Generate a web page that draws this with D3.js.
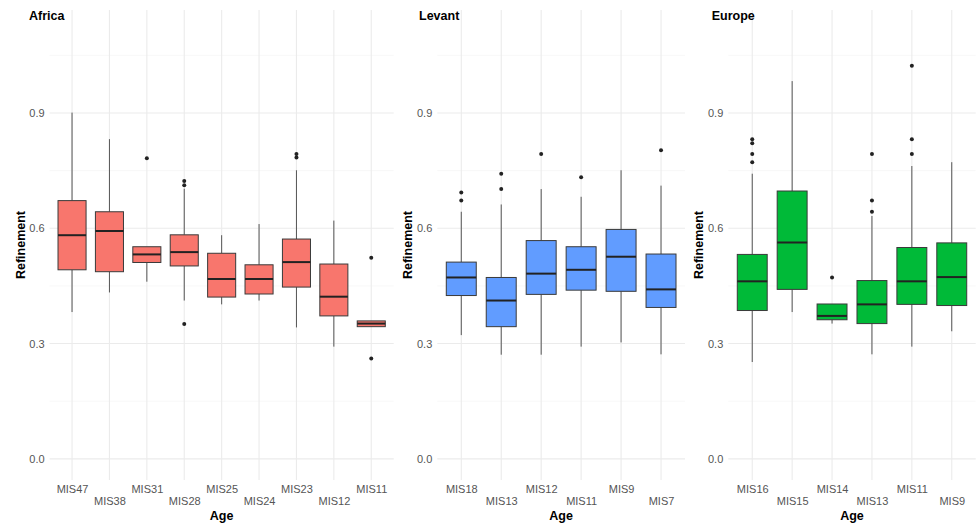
<!DOCTYPE html>
<html>
<head>
<meta charset="utf-8">
<script src="https://cdn.jsdelivr.net/npm/d3@7/dist/d3.min.js"></script>
<style>
  html, body { margin: 0; padding: 0; background: #ffffff; }
  svg { display: block; font-family: "Liberation Sans", Arial, sans-serif; }
</style>
</head>
<body>
<svg id="chart" width="979" height="523"></svg>
<script>
// Refinement by marine isotope stage, one panel per region.
// Box statistics per stage: [lower whisker, Q1, median, Q3, upper whisker]

const africaStages = ["MIS47", "MIS38", "MIS31", "MIS28", "MIS25", "MIS24", "MIS23", "MIS12", "MIS11"];
const africaBoxes = [
  [0.382, 0.492, 0.582, 0.672, 0.901],
  [0.433, 0.487, 0.593, 0.643, 0.832],
  [0.461, 0.511, 0.532, 0.552, 0.552],
  [0.412, 0.502, 0.538, 0.583, 0.703],
  [0.402, 0.421, 0.468, 0.535, 0.582],
  [0.412, 0.429, 0.468, 0.505, 0.611],
  [0.342, 0.447, 0.512, 0.572, 0.751],
  [0.292, 0.372, 0.422, 0.507, 0.620],
  [0.344, 0.344, 0.352, 0.359, 0.359]
];
const africaOutliers = [
  [],
  [],
  [0.782],
  [0.723, 0.712, 0.351],
  [],
  [],
  [0.793, 0.784],
  [],
  [0.523, 0.261]
];

const levantStages = ["MIS18", "MIS13", "MIS12", "MIS11", "MIS9", "MIS7"];
const levantBoxes = [
  [0.322, 0.425, 0.472, 0.512, 0.643],
  [0.271, 0.344, 0.412, 0.472, 0.662],
  [0.271, 0.428, 0.482, 0.568, 0.702],
  [0.292, 0.439, 0.492, 0.552, 0.682],
  [0.303, 0.436, 0.526, 0.597, 0.751],
  [0.272, 0.394, 0.441, 0.533, 0.711]
];
const levantOutliers = [
  [0.693, 0.672],
  [0.742, 0.702],
  [0.793],
  [0.733],
  [],
  [0.803]
];

const europeStages = ["MIS16", "MIS15", "MIS14", "MIS13", "MIS11", "MIS9"];
const europeBoxes = [
  [0.252, 0.386, 0.462, 0.532, 0.742],
  [0.382, 0.441, 0.563, 0.697, 0.983],
  [0.352, 0.362, 0.372, 0.403, 0.403],
  [0.272, 0.352, 0.402, 0.464, 0.632],
  [0.292, 0.402, 0.462, 0.550, 0.762],
  [0.332, 0.399, 0.473, 0.562, 0.772]
];
const europeOutliers = [
  [0.832, 0.821, 0.793, 0.772],
  [],
  [0.472],
  [0.793, 0.672, 0.643],
  [1.023, 0.832, 0.793],
  []
];

const yMajorTicks = [0.0, 0.3, 0.6, 0.9];
const yMinorTicks = [0.15, 0.45, 0.75, 1.05];

const panels = [
  { title: "Africa", stages: africaStages, boxes: africaBoxes, outliers: africaOutliers,
    fill: "#F8766D", left: 49.6, right: 393.7, titleX: 29 },
  { title: "Levant", stages: levantStages, boxes: levantBoxes, outliers: levantOutliers,
    fill: "#619CFF", left: 437.3, right: 685, titleX: 419 },
  { title: "Europe", stages: europeStages, boxes: europeBoxes, outliers: europeOutliers,
    fill: "#00BA38", left: 728.3, right: 975.7, titleX: 711.7 }
];

const svg = d3.select("#chart");
const panelTop = 10, panelBottom = 480;

const y = d3.scaleLinear().domain([-0.055, 1.168]).range([panelBottom, panelTop]);

panels.forEach(p => {
  const g = svg.append("g");
  const x = d3.scalePoint().domain(p.stages).range([p.left, p.right]).padding(0.6);
  const boxW = x.step() * 0.75;

  // grid
  g.selectAll("line.minor").data(yMinorTicks).join("line")
    .attr("x1", p.left).attr("x2", p.right)
    .attr("y1", d => y(d)).attr("y2", d => y(d))
    .attr("stroke", "#f3f3f3").attr("stroke-width", 0.6);
  g.selectAll("line.major").data(yMajorTicks).join("line")
    .attr("x1", p.left).attr("x2", p.right)
    .attr("y1", d => y(d)).attr("y2", d => y(d))
    .attr("stroke", "#ebebeb").attr("stroke-width", 1.1);
  g.selectAll("line.vgrid").data(p.stages).join("line")
    .attr("x1", d => x(d)).attr("x2", d => x(d))
    .attr("y1", panelTop).attr("y2", panelBottom)
    .attr("stroke", "#ebebeb").attr("stroke-width", 1.1);

  // y axis labels
  const yAxis = d3.axisLeft(y).tickValues(yMajorTicks).tickFormat(d3.format(".1f")).tickSize(0).tickPadding(5);
  const ya = g.append("g").attr("transform", `translate(${p.left},0)`).call(yAxis);
  ya.select(".domain").remove();
  ya.selectAll("text").attr("fill", "#555").style("font-size", "11px")
    .style("font-family", "'Liberation Sans', Arial, sans-serif");

  // x axis labels, staggered in two rows
  const xAxis = d3.axisBottom(x).tickSize(0).tickPadding(0);
  const xa = g.append("g").attr("transform", `translate(0,${panelBottom})`).call(xAxis);
  xa.select(".domain").remove();
  xa.selectAll("text")
    .attr("dy", null)
    .attr("y", (d, i) => i % 2 === 0 ? 13 : 25)
    .attr("fill", "#555").style("font-size", "11px")
    .style("font-family", "'Liberation Sans', Arial, sans-serif");

  // boxes
  const items = p.stages.map((s, i) => ({ stage: s, b: p.boxes[i], out: p.outliers[i] }));
  const bg = g.selectAll("g.box").data(items).join("g");

  bg.append("line")
    .attr("x1", d => x(d.stage)).attr("x2", d => x(d.stage))
    .attr("y1", d => y(d.b[3])).attr("y2", d => y(d.b[4]))
    .attr("stroke", "#555").attr("stroke-width", 1);
  bg.append("line")
    .attr("x1", d => x(d.stage)).attr("x2", d => x(d.stage))
    .attr("y1", d => y(d.b[0])).attr("y2", d => y(d.b[1]))
    .attr("stroke", "#555").attr("stroke-width", 1);
  bg.append("rect")
    .attr("x", d => x(d.stage) - boxW / 2).attr("width", boxW)
    .attr("y", d => y(d.b[3])).attr("height", d => y(d.b[1]) - y(d.b[3]))
    .attr("fill", p.fill).attr("stroke", "#3a3a3a").attr("stroke-width", 1);
  bg.append("line")
    .attr("x1", d => x(d.stage) - boxW / 2).attr("x2", d => x(d.stage) + boxW / 2)
    .attr("y1", d => y(d.b[2])).attr("y2", d => y(d.b[2]))
    .attr("stroke", "#222").attr("stroke-width", 2);
  bg.selectAll("circle").data(d => d.out.map(v => ({ stage: d.stage, v }))).join("circle")
    .attr("cx", d => x(d.stage)).attr("cy", d => y(d.v)).attr("r", 2)
    .attr("fill", "#222");

  // titles
  g.append("text").attr("x", p.titleX).attr("y", 19.5)
    .attr("font-weight", "bold").attr("font-size", "12.5px").attr("fill", "#000")
    .text(p.title);
  g.append("text").attr("x", (p.left + p.right) / 2).attr("y", 519.5)
    .attr("text-anchor", "middle").attr("font-weight", "bold").attr("font-size", "12.5px")
    .attr("fill", "#000").text("Age");
  g.append("text")
    .attr("transform", `translate(${p.left - 25},245) rotate(-90)`)
    .attr("text-anchor", "middle").attr("font-weight", "bold").attr("font-size", "12.5px")
    .attr("fill", "#000").text("Refinement");
});
</script>
</body>
</html>
